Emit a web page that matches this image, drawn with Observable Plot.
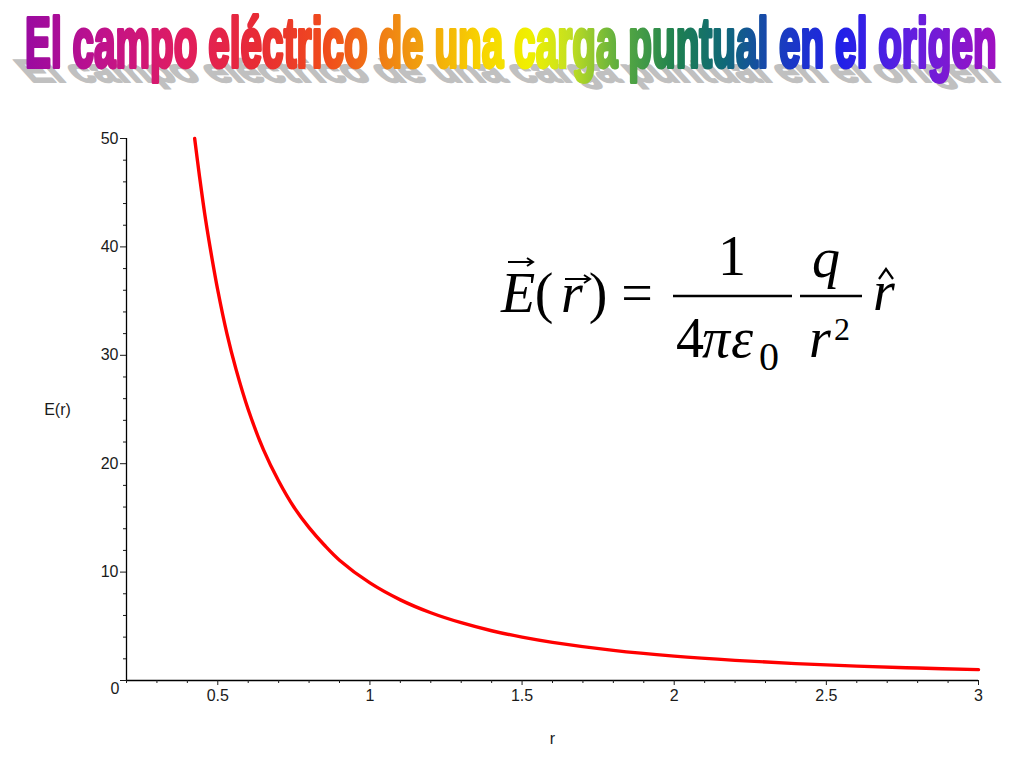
<!DOCTYPE html>
<html>
<head>
<meta charset="utf-8">
<script src="https://cdn.jsdelivr.net/npm/d3@7"></script>
<script src="https://cdn.jsdelivr.net/npm/@observablehq/plot@0.6"></script>
<style>
  html, body { margin: 0; padding: 0; background: #fff; }
  #wrap { position: relative; width: 1024px; height: 768px; overflow: hidden; }
  #wrap > svg, #wrap > div { position: absolute; left: 0; top: 0; }
</style>
</head>
<body>
<div id="wrap">
  <div id="chart"></div>
  <svg id="title" width="1024" height="100" viewBox="0 0 1024 100">
    <defs>
      <linearGradient id="rainbow" gradientUnits="objectBoundingBox" x1="0" y1="0" x2="1" y2="0">
        <stop offset="0.00" stop-color="#9a0aa0"/>
        <stop offset="0.08" stop-color="#c0128c"/>
        <stop offset="0.16" stop-color="#e01c60"/>
        <stop offset="0.24" stop-color="#e82c34"/>
        <stop offset="0.31" stop-color="#f04c1c"/>
        <stop offset="0.40" stop-color="#f09a10"/>
        <stop offset="0.47" stop-color="#f8d400"/>
        <stop offset="0.52" stop-color="#f0f000"/>
        <stop offset="0.56" stop-color="#c4e020"/>
        <stop offset="0.61" stop-color="#5eae40"/>
        <stop offset="0.67" stop-color="#1e8050"/>
        <stop offset="0.72" stop-color="#106878"/>
        <stop offset="0.78" stop-color="#1a3cc0"/>
        <stop offset="0.84" stop-color="#2020e8"/>
        <stop offset="0.91" stop-color="#6020e0"/>
        <stop offset="1.00" stop-color="#a010c0"/>
      </linearGradient>
    </defs>
    <g id="shadowGroup">
      <text id="titleShadow" x="0" y="0"
        font-family="Liberation Sans, Arial, sans-serif" font-weight="bold" font-size="71"
        fill="#c0c0c0" stroke="#c0c0c0" stroke-width="4" stroke-linejoin="round"></text>
    </g>
    <g id="titleGroup">
      <text id="titleText" x="0" y="0"
        font-family="Liberation Sans, Arial, sans-serif" font-weight="bold" font-size="71"
        fill="url(#rainbow)" stroke="url(#rainbow)" stroke-width="4" stroke-linejoin="round"></text>
    </g>
  </svg>
  <svg id="eq" width="1024" height="768" viewBox="0 0 1024 768" font-family="Liberation Serif, Times New Roman, serif" fill="#000">
    <text x="518" y="312" font-size="56" font-style="italic" text-anchor="middle">E</text>
    <path d="M508,262 H532 M527,258 L533,262 L527,266" stroke="#000" stroke-width="2" fill="none"/>
    <text x="544" y="312" font-size="56" text-anchor="middle">(</text>
    <text x="572" y="312" font-size="56" font-style="italic" text-anchor="middle">r</text>
    <path d="M565,279 H589 M584,275 L590,279 L584,283" stroke="#000" stroke-width="2" fill="none"/>
    <text x="598" y="312" font-size="56" text-anchor="middle">)</text>
    <text x="637" y="312" font-size="56" text-anchor="middle">=</text>
    <path d="M673,296 H792" stroke="#000" stroke-width="2.6"/>
    <text x="732" y="275" font-size="56" text-anchor="middle">1</text>
    <text x="690" y="357" font-size="56" text-anchor="middle">4</text>
    <text x="716" y="357" font-size="56" font-style="italic" text-anchor="middle">π</text>
    <text x="742" y="357" font-size="56" font-style="italic" text-anchor="middle">ε</text>
    <text x="769" y="370" font-size="40" text-anchor="middle">0</text>
    <path d="M800,296 H862" stroke="#000" stroke-width="2.6"/>
    <text x="826" y="277" font-size="56" font-style="italic" text-anchor="middle">q</text>
    <text x="820" y="357" font-size="56" font-style="italic" text-anchor="middle">r</text>
    <text x="842" y="340" font-size="32" text-anchor="middle">2</text>
    <text x="884" y="310" font-size="56" font-style="italic" text-anchor="middle">r</text>
    <path d="M879,279 L886,269 L893,279" stroke="#000" stroke-width="2.2" fill="none"/>
  </svg>
</div>
<script>
// ---- data ----
const titleLabel = "El campo eléctrico de una carga puntual en el origen";
const xAxisLabel = "r";
const yAxisLabel = "E(r)";

// curve samples: r and E(r)
const rValues = [0.424, 0.44, 0.46, 0.48, 0.5, 0.53, 0.56, 0.6, 0.65, 0.7, 0.75, 0.8, 0.85, 0.9, 1.0, 1.1, 1.2, 1.3, 1.4, 1.5, 1.6, 1.8, 2.0, 2.2, 2.4, 2.6, 2.8, 3.0];
const eValues = [50.0, 46.5, 42.5, 39.1, 36.0, 32.0, 28.7, 25.0, 21.3, 18.4, 16.0, 14.1, 12.5, 11.1, 9.0, 7.44, 6.25, 5.33, 4.59, 4.0, 3.52, 2.78, 2.25, 1.86, 1.56, 1.33, 1.15, 1.0];

// axes
const xDomain = [0.2, 3];
const yDomain = [0, 50];
const xMajorTicks = [0.5, 1, 1.5, 2, 2.5, 3];
const xTickLabels = ["0.5", "1", "1.5", "2", "2.5", "3"];
const xMinorTicks = [0.2, 0.3, 0.4, 0.6, 0.7, 0.8, 0.9, 1.1, 1.2, 1.3, 1.4, 1.6, 1.7, 1.8, 1.9, 2.1, 2.2, 2.3, 2.4, 2.6, 2.7, 2.8, 2.9];
const yMajorTicks = [0, 10, 20, 30, 40, 50];
const yTickLabels = ["0", "10", "20", "30", "40", "50"];
const yMinorTicks = [2, 4, 6, 8, 12, 14, 16, 18, 22, 24, 26, 28, 32, 34, 36, 38, 42, 44, 46, 48];

// ---- title (WordArt-like) ----
const tText = document.getElementById("titleText");
const tShadow = document.getElementById("titleShadow");
tText.textContent = titleLabel;
tShadow.textContent = titleLabel;
const natural = tText.getComputedTextLength() + 4;
const sx = 974 / natural;
document.getElementById("titleGroup").setAttribute("transform", `translate(24,67) scale(${sx},1) translate(2,0)`);
document.getElementById("shadowGroup").setAttribute("transform", `translate(30,82) skewX(42) scale(${sx},0.45) translate(2,0)`);

// ---- chart ----
const points = rValues.map((r, i) => ({r, E: eValues[i]}));
const xLab = new Map(xMajorTicks.map((v, i) => [v, xTickLabels[i]]));
const yLab = new Map(yMajorTicks.map((v, i) => [v, yTickLabels[i]]));
const font = "'Liberation Sans Narrow', 'Arial Narrow', 'Liberation Sans', sans-serif";

const chart = Plot.plot({
  width: 1024,
  height: 768,
  marginLeft: 126,
  marginRight: 46,
  marginTop: 138,
  marginBottom: 88,
  x: {domain: xDomain, label: null},
  y: {domain: yDomain, label: null},
  style: {fontFamily: font, fontSize: "16px", color: "#1a1a1a", background: "transparent"},
  marks: [
    Plot.ruleY([0], {stroke: "#000", strokeWidth: 1.3}),
    Plot.ruleX([xDomain[0]], {stroke: "#000", strokeWidth: 1.3}),
    Plot.axisX({ticks: xMinorTicks, tickSize: 3, tickFormat: () => "", label: null}),
    Plot.axisX({ticks: xMajorTicks, tickSize: 5, tickPadding: 4, tickFormat: d => xLab.get(d), label: null, fontSize: 16}),
    Plot.axisY({ticks: yMinorTicks, tickSize: 3, tickFormat: () => "", label: null}),
    Plot.axisY({ticks: yMajorTicks, tickSize: 6, tickPadding: 2, tickFormat: d => d === 0 ? "" : yLab.get(d), label: null, fontSize: 16}),
    Plot.text([yLab.get(0)], {frameAnchor: "bottom-left", dx: -7, dy: 8, textAnchor: "end", lineAnchor: "middle", fontSize: 16}),
    Plot.line(points, {x: "r", y: "E", stroke: "#ff0000", strokeWidth: 3.4, curve: "catmull-rom"}),
    Plot.text([yAxisLabel], {frameAnchor: "left", dx: -69, textAnchor: "middle", lineAnchor: "middle", fontSize: 16}),
    Plot.text([xAxisLabel], {frameAnchor: "bottom", dy: 58, textAnchor: "middle", lineAnchor: "middle", fontSize: 16})
  ]
});
document.getElementById("chart").appendChild(chart);
</script>
</body>
</html>
